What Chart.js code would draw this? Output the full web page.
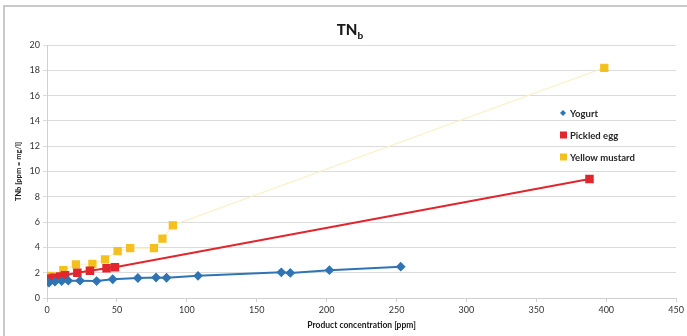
<!DOCTYPE html>
<html>
<head>
<meta charset="utf-8">
<script src="https://cdn.jsdelivr.net/npm/chart.js@4.4.0/dist/chart.umd.min.js"></script>
<style>
	html, body { margin: 0; padding: 0; background: #fff; }
	#wrap { position: relative; width: 687px; height: 336px; overflow: hidden; }
	#frame { position: absolute; left: 3px; top: 5px; width: 700px; height: 340px; border: 2px solid #c9c9c9; box-sizing: border-box; }
	canvas { position: absolute; left: 0; top: 0; }
</style>
</head>
<body>
<div id="wrap">
	<div id="frame"></div>
	<canvas id="chart" width="687" height="336"></canvas>
</div>
<script>
// values
const yogurt_x = [1.4, 5.7, 10.5, 15.2, 23.6, 35.5, 47, 65, 78, 85.5, 108, 167.6, 174, 202, 253]
const yogurt_y = [1.21, 1.29, 1.34, 1.37, 1.37, 1.34, 1.48, 1.58, 1.62, 1.6, 1.75, 2.03, 1.98, 2.2, 2.48]

const egg_x = [1.4, 5, 9.3, 12.9, 21.7, 30.7, 42.6, 48.6, 388]
const egg_y = [1.55, 1.6, 1.7, 1.8, 2.0, 2.16, 2.35, 2.43, 9.4]

const mustard_x = [0.5, 2.5, 11.7, 20.7, 32.5, 41.5, 50.5, 59.5, 76.5, 82.6, 90, 398.6]
const mustard_y = [1.7, 1.75, 2.2, 2.65, 2.7, 3.05, 3.7, 3.95, 3.95, 4.7, 5.75, 18.2]

const series_names = ['Yogurt', 'Pickled egg', 'Yellow mustard']
const x_title = 'Product concentration [ppm]'
const y_title = 'TNb [ppm = mg/l]'

const FONT = 'Lato, "Open Sans", sans-serif'

const toPoints = (xs, ys) => xs.map((x, i) => ({x: x, y: ys[i]}))

// title with a subscript b
const titlePlugin = {
	id: 'subTitle',
	afterDraw(chart) {
		const ctx = chart.ctx
		ctx.save()
		ctx.fillStyle = '#1a1a1a'
		ctx.textBaseline = 'alphabetic'
		ctx.font = '900 15px ' + FONT
		const w1 = ctx.measureText('TN').width
		ctx.font = '900 10px ' + FONT
		const w2 = ctx.measureText('b').width
		const x0 = 350 - (w1 + w2) / 2
		ctx.font = '900 15px ' + FONT
		ctx.fillText('TN', x0, 35)
		ctx.font = '900 10px ' + FONT
		ctx.fillText('b', x0 + w1, 39)
		ctx.restore()
	}
}

// legend inside the plot, right side
const legendPlugin = {
	id: 'innerLegend',
	afterDraw(chart) {
		const ctx = chart.ctx
		const ys = [113, 135, 157]
		ctx.save()
		ctx.font = 'bold 9.5px ' + FONT
		ctx.textBaseline = 'middle'
		chart.data.datasets.forEach((ds, i) => {
			const y = ys[i]
			ctx.fillStyle = ds.backgroundColor
			if (i === 0) {
				ctx.beginPath()
				ctx.moveTo(563, y - 3); ctx.lineTo(566, y); ctx.lineTo(563, y + 3); ctx.lineTo(560, y)
				ctx.closePath(); ctx.fill()
			} else {
				ctx.fillRect(560, y - 3.5, 7, 7)
			}
			ctx.fillStyle = '#262626'
			ctx.fillText(ds.label, 570, y + 0.5)
		})
		ctx.restore()
	}
}

new Chart(document.getElementById('chart'), {
	type: 'scatter',
	data: {
		datasets: [
			{
				label: series_names[0],
				data: toPoints(yogurt_x, yogurt_y),
				showLine: true,
				borderColor: '#2f74b5',
				backgroundColor: '#2f74b5',
				borderWidth: 2,
				pointStyle: 'rectRot',
				pointRadius: 3.5,
				order: 1
			},
			{
				label: series_names[1],
				data: toPoints(egg_x, egg_y),
				showLine: true,
				borderColor: '#e2262d',
				backgroundColor: '#e2262d',
				borderWidth: 2,
				pointStyle: 'rect',
				pointRadius: 4.6,
				order: 2
			},
			{
				label: series_names[2],
				data: toPoints(mustard_x, mustard_y),
				showLine: true,
				borderColor: '#faf0c4',
				backgroundColor: '#f4c01e',
				pointBorderColor: '#f4c01e',
				borderWidth: 1.2,
				pointStyle: 'rect',
				pointRadius: 5,
				order: 3
			}
		]
	},
	options: {
		responsive: false,
		animation: false,
		layout: { padding: { left: 10, right: 10, top: 45, bottom: 0 } },
		plugins: {
			legend: { display: false },
			tooltip: { enabled: false }
		},
		scales: {
			x: {
				type: 'linear',
				min: 0, max: 450,
				ticks: { stepSize: 50, color: '#333333', font: { family: FONT, size: 9 }, padding: 3, maxRotation: 0 },
				grid: { drawOnChartArea: false, drawTicks: true, tickLength: 4, color: '#d0d0d0' },
				border: { color: '#d0d0d0' },
				title: { display: true, text: x_title, color: '#1a1a1a', font: { family: FONT, size: 8.5, weight: 'bold' }, padding: { top: 0, bottom: 6 } },
				afterFit: (scale) => { scale.height = 38 }
			},
			y: {
				min: 0, max: 20,
				ticks: { stepSize: 2, color: '#333333', font: { family: FONT, size: 9 }, padding: 3 },
				grid: { color: '#dcdcdc', tickLength: 4 },
				border: { color: '#d0d0d0' },
				title: { display: true, text: y_title, color: '#1a1a1a', font: { family: FONT, size: 7.5, weight: 'bold' }, padding: { top: 4, bottom: 0 } },
				afterFit: (scale) => { scale.width = 37 }
			}
		}
	},
	plugins: [titlePlugin, legendPlugin]
})
</script>
</body>
</html>
